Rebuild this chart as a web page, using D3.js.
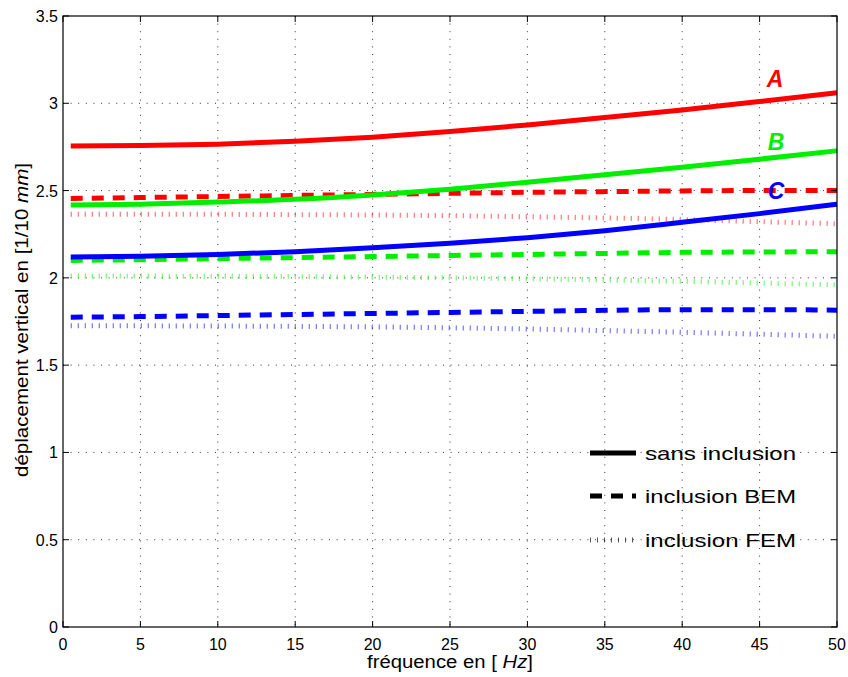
<!DOCTYPE html>
<html><head><meta charset="utf-8">
<script src="https://cdn.jsdelivr.net/npm/d3@7"></script>
<style>body{margin:0;background:#fff}svg{font-family:"Liberation Sans",Arial,sans-serif}</style>
</head><body><svg id="c" width="848" height="677"></svg>
<script>
const freq = [0.5, 5, 10, 15, 20, 25, 30, 35, 40, 45, 50];
const solidA = [2.755, 2.758, 2.766, 2.782, 2.806, 2.838, 2.876, 2.918, 2.962, 3.010, 3.060];
const solidB = [2.417, 2.422, 2.434, 2.450, 2.475, 2.508, 2.548, 2.590, 2.634, 2.680, 2.728];
const solidC = [2.120, 2.124, 2.134, 2.150, 2.172, 2.198, 2.230, 2.270, 2.318, 2.368, 2.422];
const bemA = [2.455, 2.460, 2.466, 2.472, 2.478, 2.484, 2.490, 2.494, 2.498, 2.500, 2.500];
const bemB = [2.100, 2.104, 2.110, 2.116, 2.122, 2.128, 2.134, 2.140, 2.146, 2.148, 2.150];
const bemC = [1.775, 1.778, 1.784, 1.790, 1.796, 1.802, 1.808, 1.814, 1.818, 1.818, 1.815];
const femA = [2.365, 2.365, 2.364, 2.362, 2.360, 2.356, 2.350, 2.343, 2.334, 2.322, 2.310];
const femB = [2.010, 2.010, 2.009, 2.007, 2.004, 2.000, 1.995, 1.988, 1.980, 1.970, 1.960];
const femC = [1.725, 1.725, 1.724, 1.722, 1.719, 1.714, 1.707, 1.698, 1.688, 1.677, 1.665];
const xTicks = [0, 5, 10, 15, 20, 25, 30, 35, 40, 45, 50];
const yTicks = [0, 0.5, 1, 1.5, 2, 2.5, 3, 3.5];
const curveNames = ["A", "B", "C"];
const colors = ["#ff0000", "#00ee00", "#0000ff"];
const legendLabels = ["sans inclusion", "inclusion BEM", "inclusion FEM"];

const svg = d3.select("#c");
const L = 63, R = 837, T = 16, B = 627;
const x = d3.scaleLinear().domain([0, 50]).range([L, R]);
const y = d3.scaleLinear().domain([0, 3.5]).range([B, T]);

// grid
const g = svg.append("g");
g.selectAll(".gx").data(xTicks.slice(1, -1)).join("line")
  .attr("x1", d => x(d)).attr("x2", d => x(d)).attr("y1", T).attr("y2", B)
  .attr("stroke", "#333").attr("stroke-width", 1).attr("stroke-dasharray", "1,6.6");
g.selectAll(".gy").data(yTicks.slice(1, -1)).join("line")
  .attr("y1", d => y(d)).attr("y2", d => y(d)).attr("x1", L).attr("x2", R)
  .attr("stroke", "#333").attr("stroke-width", 1).attr("stroke-dasharray", "1,6.6");

const line = d3.line().x(d => x(d[0])).y(d => y(d[1])).curve(d3.curveMonotoneX);
const mk = arr => freq.map((f, i) => [f, arr[i]]);
const solids = [solidA, solidB, solidC], bems = [bemA, bemB, bemC], fems = [femA, femB, femC];

const styles = [
  {w: 5, dash: null, op: 1},
  {w: 5, dash: "12,9", op: 1},
  {w: 5, dash: "1,6", op: 0.65}
];
[fems, bems, solids].forEach((set, si) => {
  const st = styles[2 - si];
  set.forEach((arr, ci) => {
    svg.append("path").attr("d", line(mk(arr))).attr("fill", "none")
      .attr("stroke", colors[ci]).attr("stroke-width", st.w)
      .attr("stroke-opacity", st.op)
      .attr("stroke-dasharray", st.dash);
  });
});

// curve labels
const labelPos = [[775, 87], [776, 150], [776, 199]];
curveNames.forEach((n, i) => {
  svg.append("text").attr("x", labelPos[i][0]).attr("y", labelPos[i][1])
    .attr("text-anchor", "middle").attr("font-size", 23).attr("font-weight", "bold")
    .attr("font-style", "italic").attr("fill", colors[i]).text(n);
});

// axes box
svg.append("rect").attr("x", L).attr("y", T).attr("width", R - L).attr("height", B - T)
  .attr("fill", "none").attr("stroke", "#000").attr("stroke-width", 1.2);
const tl = 6;
xTicks.forEach(d => {
  svg.append("line").attr("x1", x(d)).attr("x2", x(d)).attr("y1", B).attr("y2", B - tl).attr("stroke", "#000");
  svg.append("line").attr("x1", x(d)).attr("x2", x(d)).attr("y1", T).attr("y2", T + tl).attr("stroke", "#000");
  svg.append("text").attr("x", x(d)).attr("y", B + 23).attr("text-anchor", "middle")
    .attr("font-size", 16).text(d);
});
yTicks.forEach(d => {
  svg.append("line").attr("y1", y(d)).attr("y2", y(d)).attr("x1", L).attr("x2", L + tl).attr("stroke", "#000");
  svg.append("line").attr("y1", y(d)).attr("y2", y(d)).attr("x1", R).attr("x2", R - tl).attr("stroke", "#000");
  svg.append("text").attr("x", L - 5).attr("y", y(d) + 6).attr("text-anchor", "end")
    .attr("font-size", 16).text(d);
});

// axis labels
const xl = svg.append("text").attr("x", 367).attr("y", 668).attr("font-size", 18)
  .attr("textLength", 166).attr("lengthAdjust", "spacingAndGlyphs");
xl.append("tspan").text("fréquence en [ ");
xl.append("tspan").attr("font-style", "italic").text("Hz");
xl.append("tspan").text("]");
const yl = svg.append("text").attr("transform", `translate(28,477) rotate(-90)`)
  .attr("font-size", 18).attr("textLength", 314).attr("lengthAdjust", "spacingAndGlyphs");
yl.append("tspan").text("déplacement vertical en [1/10 ");
yl.append("tspan").attr("font-style", "italic").text("mm");
yl.append("tspan").text("]");

// legend
const legY = [453, 496, 540];
legendLabels.forEach((lab, i) => {
  svg.append("line").attr("x1", 590).attr("x2", 636).attr("y1", legY[i]).attr("y2", legY[i])
    .attr("stroke", "#000").attr("stroke-width", 5)
    .attr("stroke-opacity", styles[i].op).attr("stroke-dasharray", styles[i].dash);
  svg.append("text").attr("x", 645).attr("y", legY[i] + 7).attr("font-size", 19)
    .attr("textLength", 151).attr("lengthAdjust", "spacingAndGlyphs").text(lab);
});
</script></body></html>
